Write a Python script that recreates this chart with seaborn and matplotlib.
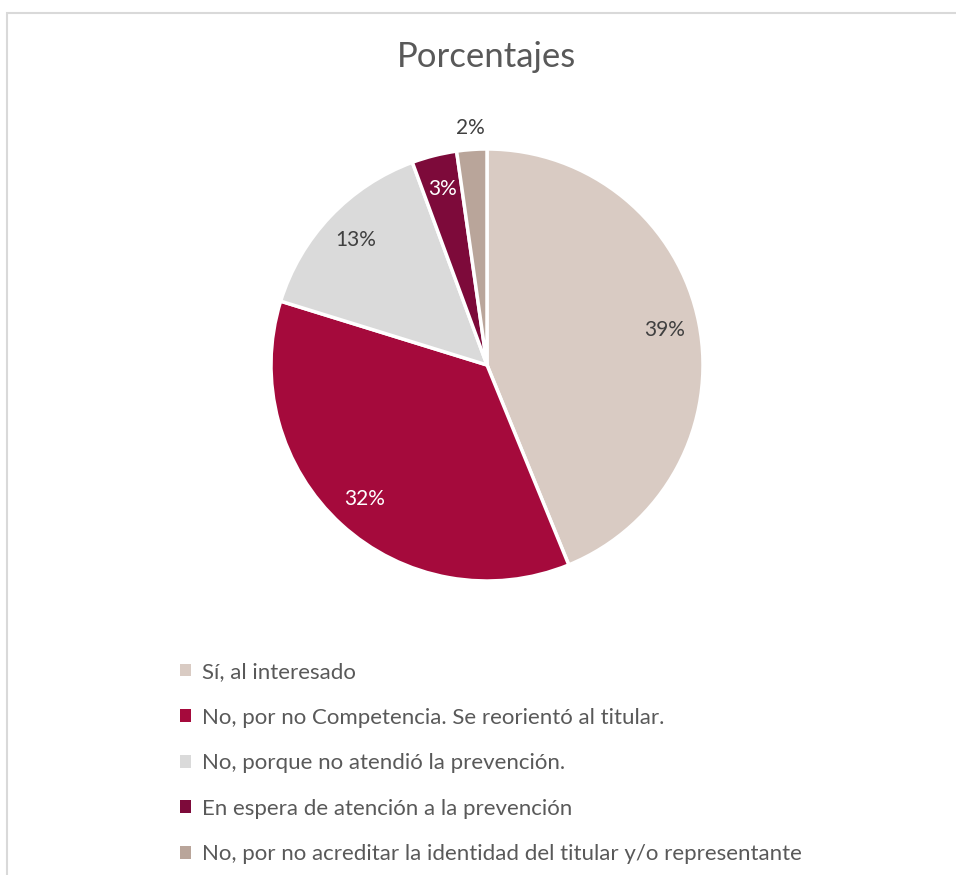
import matplotlib
matplotlib.use("Agg")
import matplotlib.pyplot as plt
import seaborn as sns
from matplotlib.patches import Rectangle, Patch

# Data
categorias = [
    "Sí, al interesado",
    "No, por no Competencia. Se reorientó al titular.",
    "No, porque no atendió la prevención.",
    "En espera de atención a la prevención",
    "No, por no acreditar la identidad del titular y/o representante",
]
valores = [39, 32, 13, 3, 2]
colores = ["#D9CBC3", "#A50A3C", "#DADADA", "#7D0A3A", "#B9A59A"]
color_texto = ["#404040", "white", "#404040", "white", "#404040"]

sns.set_theme(style="white")
plt.rcParams["font.family"] = ["Lato", "DejaVu Sans"]

W, H = 956, 875
fig = plt.figure(figsize=(W / 100, H / 100), dpi=100)

# light frame like the Excel chart area (right and bottom edges are cut off)
fig.patches.append(Rectangle((7 / W, -0.1), 1.2, 1.1 - 13 / H, transform=fig.transFigure,
                             fill=False, edgecolor="#D9D9D9", linewidth=1.5))

cx, cy, r = 487, 365, 216
ax = fig.add_axes([(cx - r) / W, 1 - (cy + r) / H, 2 * r / W, 2 * r / H])

wedges, texts, autotexts = ax.pie(
    valores, colors=colores, startangle=90, counterclock=False,
    autopct=lambda p: "", pctdistance=0.84,
    wedgeprops=dict(edgecolor="white", linewidth=2.5))

for i, t in enumerate(autotexts):
    t.set_text(f"{valores[i]}%")
    t.set_color(color_texto[i])
    t.set_fontsize(15)

# the smallest slice has its label outside
x, y = autotexts[-1].get_position()
autotexts[-1].set_position((x * 1.1 / 0.84, y * 1.1 / 0.84))

ax.set_xlim(-1, 1)
ax.set_ylim(-1, 1)
ax.set_aspect("equal")
ax.axis("off")

fig.text(487 / W, 1 - 57 / H, "Porcentajes", ha="center", va="center",
         fontsize=25, color="#595959")

handles = [Patch(facecolor=c, edgecolor="none") for c in colores]
fig.legend(handles, categorias, loc="upper left",
           bbox_to_anchor=(160 / W, 1 - 642 / H), frameon=False,
           handlelength=0.5, handleheight=0.5, handletextpad=0.5,
           labelspacing=1.15, fontsize=16, labelcolor="#595959")

fig.savefig("out.png", dpi=100, facecolor="white")
